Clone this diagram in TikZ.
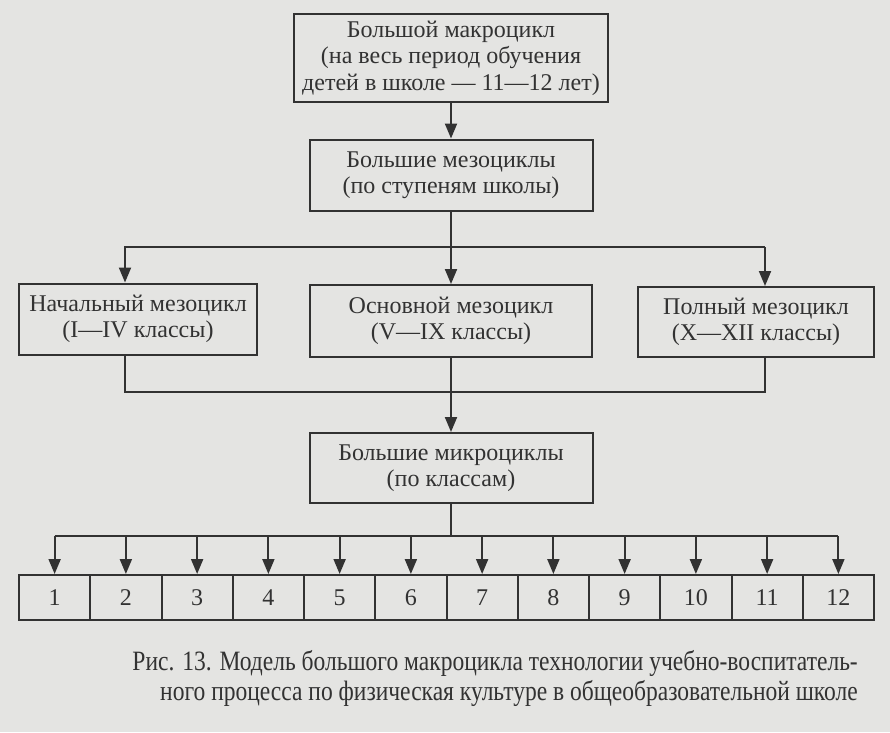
\documentclass[tikz,border=0pt]{standalone}
\usepackage{fontspec}
\setmainfont{Liberation Serif}
\newfontfamily\capfont[FakeStretch=0.84]{Liberation Serif}
\usetikzlibrary{arrows.meta,positioning,calc}
\definecolor{paper}{RGB}{228,228,226}
\definecolor{ink}{RGB}{50,50,50}

\begin{document}
\begin{tikzpicture}[x=1pt, y=-1pt, font=\fontsize{24}{26.5}\selectfont, text=ink,
  box/.style={draw=ink, line width=2pt, align=center, inner sep=0pt},
  numbox/.style={box, minimum width=71.25pt, minimum height=45pt},
  arr/.style={-{Triangle[length=15pt,width=12pt]}, line width=2pt, draw=ink},
  link/.style={line width=2pt, draw=ink}]
\fill[paper] (0,0) rectangle (890,732);
\useasboundingbox (0,0) rectangle (890,732);
% boxes
\node[box, minimum width=314pt, minimum height=88pt] (macro) at (451,58) {Большой макроцикл\\(на весь период обучения\\детей в школе — 11—12 лет)};
\node[box, minimum width=283pt, minimum height=71pt] (meso) at (451,175) {Большие мезоциклы\\(по ступеням школы)};
\node[box, minimum width=238pt, minimum height=71pt] (nach) at (138,319) {Начальный мезоцикл\\(I—IV классы)};
\node[box, minimum width=282pt, minimum height=72pt] (osn) at (451,321) {Основной мезоцикл\\(V—IX классы)};
\node[box, minimum width=236pt, minimum height=70pt] (poln) at (756,322) {Полный мезоцикл\\(X—XII классы)};
\node[box, minimum width=283pt, minimum height=70pt] (micro) at (451,468) {Большие микроциклы\\(по классам)};
\foreach \i in {1,...,12}
  \node[numbox] (n\i) at ({19+71.25*(\i-0.5)},597.5) {\i};
% connectors
\coordinate (bl) at (125,247);
\coordinate (br) at (765,247);
\coordinate (ml) at (125,392);
\coordinate (mr) at (765,392);
\coordinate (mb) at (55,536);
\draw[arr] (macro) -- (meso);
\draw[arr] (br) -- (bl) -- (bl |- nach.north);
\draw[arr] (br) -- (br |- poln.north);
\draw[arr] (meso) -- (osn);
\draw[link] (ml |- nach.south) -- (ml) -- (mr) -- (mr |- poln.south);
\draw[arr] (osn) -- (micro);
\draw[link] (micro.south) -- (micro.south |- mb);
\draw[link] (n1.north |- mb) -- (n12.north |- mb);
\foreach \i in {1,...,12}
  \draw[arr] (n\i.north |- mb) -- (n\i.north);
% caption
\node[font=\capfont\fontsize{28}{30}\selectfont, align=right, anchor=north east, inner sep=0pt] (cap) at (858,650)
  {Рис. 13. Модель большого макроцикла технологии учебно-воспитатель-\\ного процесса по физическая культуре в общеобразовательной школе};
\end{tikzpicture}
\end{document}
